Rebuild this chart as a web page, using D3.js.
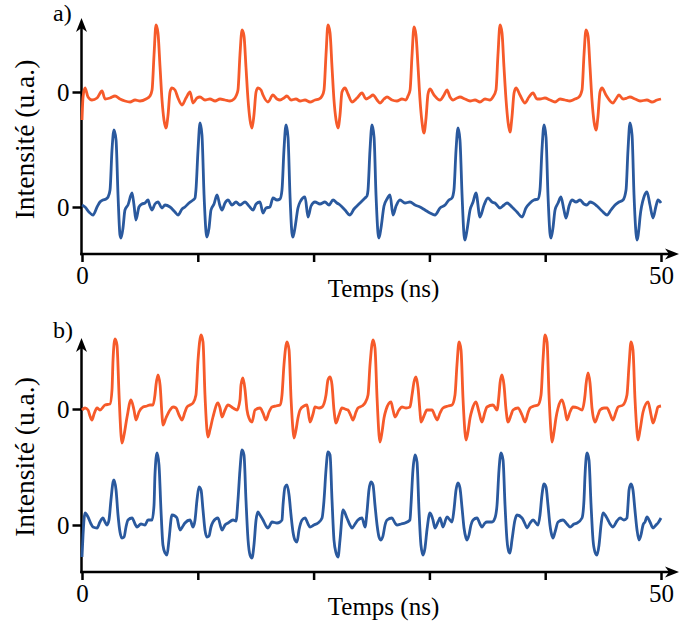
<!DOCTYPE html>
<html><head><meta charset="utf-8">
<script src="https://cdn.jsdelivr.net/npm/d3@7/dist/d3.min.js"></script>
<style>
body{margin:0;background:#fff}
text{font-family:"Liberation Serif","Times New Roman",serif;fill:#000}
</style>
</head><body>
<svg id="chart" width="680" height="626"></svg>
<script>
// ---------- DATA (time in ns, intensity in a.u.) ----------
const xTickValues = [0, 10, 20, 30, 40, 50];
const xTickLabels = ["0", "", "", "", "", "50"];
const yTickLabels = ["0", "0"];
const panelLabels = ["a)", "b)"];
const xAxisTitle = "Temps (ns)";
const yAxisTitle = "Intensité (u.a.)";
const colors = {orange: "#f65a2a", blue: "#2a599e"};

// panel a, orange trace
const tA_orange = [0,0.09,0.26,0.52,0.86,1.30,1.73,1.99,2.42,2.85,3.28,3.71,4.15,4.58,5.01,5.53,5.87,6.05,6.22,6.39,6.56,6.74,6.91,7.08,7.25,7.43,7.60,7.77,8.03,8.29,8.64,8.98,9.33,9.59,9.93,10.19,10.62,11.05,11.49,11.92,12.35,12.78,13.13,13.30,13.47,13.64,13.82,13.99,14.16,14.34,14.51,14.68,14.85,15.03,15.20,15.46,15.63,16.06,16.49,16.84,17.10,17.44,17.70,18.05,18.48,18.83,19.26,19.69,20.12,20.47,20.73,20.90,21.07,21.24,21.42,21.59,21.76,21.94,22.11,22.28,22.45,22.71,22.97,23.32,23.75,24.18,24.53,24.87,25.13,25.48,25.73,26.08,26.34,26.77,27.20,27.63,27.98,28.15,28.33,28.50,28.67,28.84,29.02,29.19,29.36,29.53,29.71,29.88,30.05,30.40,30.92,31.26,31.52,31.78,32.04,32.38,32.64,33.07,33.51,33.94,34.37,34.80,35.23,35.49,35.75,35.92,36.10,36.27,36.44,36.62,36.79,36.96,37.13,37.31,37.48,37.82,38.26,38.60,38.95,39.29,39.55,39.98,40.41,40.85,41.28,41.71,42.14,42.57,42.92,43.18,43.35,43.52,43.70,43.87,44.04,44.22,44.39,44.56,44.73,44.91,45.25,45.85,46.11,46.37,46.72,47.07,47.32,47.76,48.19,48.79,49.22,49.66,50.0];
const vA_orange = [-2.8,-0.5,0.4,-0.5,-0.8,-0.6,0.1,-0.7,-0.6,-0.4,-0.7,-0.9,-1.0,-0.8,-0.9,-0.7,-0.4,0.2,3.7,6.7,5.9,2.5,-0.8,-2.8,-3.6,-2.3,0.0,0.4,0.2,-0.6,-1.3,-0.6,0.0,-1.1,-0.6,-0.5,-0.8,-0.7,-0.9,-0.7,-0.8,-0.9,-0.7,-0.4,0.2,3.7,6.2,5.6,2.5,-0.8,-2.8,-3.6,-2.3,0.0,0.4,0.2,-0.3,-1.0,-0.3,-0.7,-0.8,-0.6,-0.4,-0.8,-0.7,-0.9,-0.8,-1.0,-0.8,-0.7,-0.4,0.2,3.7,6.7,5.9,2.5,-0.8,-2.8,-3.6,-2.3,0.0,0.4,-0.2,-1.0,-0.6,-0.1,-0.7,-0.5,-0.3,-0.8,-1.1,-0.7,-0.5,-0.8,-0.9,-0.7,-0.8,-0.4,0.2,3.7,6.5,5.7,2.5,-0.8,-3.0,-4.1,-2.6,-0.2,0.3,-0.3,-0.8,-0.3,0.2,-0.5,-0.8,-0.6,-0.5,-0.7,-0.9,-0.8,-1.0,-0.7,-0.8,-0.5,0.2,3.7,6.7,5.9,2.5,-0.8,-3.0,-4.0,-2.5,-0.1,0.4,-0.3,-1.1,-0.5,-0.1,-0.7,-0.7,-0.6,-0.8,-1.0,-0.7,-0.8,-0.9,-0.7,-0.5,0.2,3.7,6.2,5.6,2.5,-0.8,-3.0,-3.8,-2.4,0.0,0.4,-0.3,-1.1,-0.7,-0.3,-0.7,-0.6,-0.5,-0.7,-0.9,-0.8,-1.0,-0.8,-0.7];

// panel a, blue trace
const tA_blue = [0,0.26,0.60,0.95,1.30,1.55,1.81,2.07,2.25,2.42,2.59,2.76,2.94,3.11,3.28,3.37,3.54,3.71,3.97,4.32,4.49,4.66,4.92,5.18,5.44,5.70,5.87,6.05,6.30,6.56,6.91,7.17,7.60,8.03,8.29,8.64,8.89,9.24,9.59,9.76,9.84,10.02,10.19,10.36,10.54,10.71,10.79,10.97,11.14,11.40,11.66,11.92,12.09,12.35,12.61,12.95,13.30,13.64,14.08,14.42,14.77,15.03,15.37,15.63,15.89,16.23,16.49,16.84,17.10,17.27,17.44,17.62,17.79,17.96,18.13,18.22,18.39,18.65,18.83,19.26,19.52,19.78,20.12,20.55,20.98,21.33,21.68,22.02,22.28,22.71,23.14,23.49,23.83,24.18,24.44,24.61,24.70,24.87,25.04,25.22,25.39,25.56,25.65,25.82,26.08,26.34,26.60,26.86,27.12,27.46,27.89,28.32,28.76,29.19,29.62,30.05,30.48,30.92,31.35,31.69,31.95,32.12,32.30,32.47,32.64,32.82,32.99,33.07,33.25,33.51,33.77,34.02,34.37,34.72,35.06,35.41,35.66,36.10,36.44,36.70,37.13,37.56,38.00,38.34,38.69,39.03,39.38,39.55,39.72,39.90,40.07,40.24,40.41,40.50,40.67,40.85,41.11,41.36,41.62,41.80,42.06,42.31,42.66,43.01,43.35,43.61,43.87,44.13,44.47,44.91,45.34,45.68,46.03,46.37,46.72,46.98,47.15,47.32,47.50,47.67,47.84,47.93,48.10,48.19,48.53,48.79,49.05,49.31,49.57,49.74,50.0];
const vA_blue = [0.2,0.0,-0.5,-0.8,0.0,0.5,0.7,0.8,1.0,1.7,5.7,7.7,6.7,1.2,-2.8,-3.1,-2.1,-0.3,0.2,1.4,0.2,-1.3,0.0,0.3,0.4,0.7,0.1,-0.3,0.3,0.5,-0.1,0.2,0.0,-0.5,-0.8,-0.2,0.0,0.4,0.7,0.9,1.7,5.7,8.4,7.2,1.2,-2.5,-3.0,-2.1,-0.3,0.3,1.2,0.1,-0.3,0.4,0.7,0.2,0.5,0.2,0.5,0.1,-0.3,0.3,0.5,-0.6,-0.1,0.0,0.9,0.7,0.8,1.7,5.7,8.2,7.0,1.2,-2.6,-3.0,-2.1,-0.1,0.5,1.0,-1.0,0.1,0.5,0.3,0.5,0.2,0.7,0.4,0.2,-0.3,-0.8,-0.2,0.2,0.6,0.9,1.1,1.7,5.7,8.2,7.0,1.2,-2.6,-3.1,-2.1,0.1,0.8,1.2,-0.8,0.1,0.7,0.4,0.5,0.2,0.0,-0.3,-0.6,-0.8,-0.1,0.2,0.7,0.9,1.7,5.7,7.9,6.7,1.2,-2.8,-3.3,-2.3,-0.3,0.5,1.4,-1.0,0.2,0.9,0.5,0.4,-0.1,0.2,0.4,0.0,-0.5,-1.0,-0.1,0.4,0.7,0.8,1.7,5.7,8.2,7.0,1.2,-2.6,-3.1,-2.1,-0.3,0.4,1.0,-0.3,-1.1,0.1,0.7,0.5,0.7,0.3,0.2,0.5,0.4,0.1,-0.4,-0.8,-0.3,0.2,0.5,0.7,1.7,5.7,8.4,7.2,1.2,-2.6,-3.3,-2.1,-1.0,1.0,1.5,0.2,-1.1,0.1,0.7,0.4];

// panel b, orange trace
const tB_orange = [0,0.26,0.52,0.69,0.86,1.04,1.30,1.55,1.99,2.42,2.59,2.68,2.85,3.02,3.20,3.37,3.45,3.63,3.89,4.23,4.49,4.66,4.92,5.27,5.61,5.87,6.13,6.30,6.39,6.56,6.74,6.91,6.99,7.25,7.60,7.86,8.12,8.38,8.64,8.89,9.07,9.33,9.59,9.84,10.02,10.28,10.45,10.62,10.79,10.88,11.05,11.31,11.74,11.92,12.09,12.35,12.61,13.04,13.39,13.64,13.73,13.90,14.08,14.25,14.42,14.68,14.94,15.37,15.63,15.89,16.15,16.41,16.75,17.10,17.27,17.44,17.70,17.88,18.05,18.22,18.31,18.48,18.65,18.83,19.17,19.43,19.69,19.95,20.12,20.47,20.73,21.07,21.24,21.42,21.59,21.76,21.94,22.19,22.45,22.71,22.97,23.23,23.40,23.66,23.83,24.18,24.44,24.70,24.87,25.13,25.30,25.48,25.65,25.73,25.91,26.08,26.25,26.68,26.86,27.03,27.37,27.63,27.98,28.32,28.50,28.67,28.84,29.02,29.19,29.27,29.53,29.79,30.22,30.48,30.66,30.92,31.17,31.61,31.95,32.21,32.38,32.56,32.73,32.90,33.07,33.16,33.33,33.51,33.68,34.02,34.28,34.54,34.80,34.97,35.49,35.84,36.01,36.10,36.27,36.44,36.62,36.79,37.05,37.22,37.65,38.00,38.26,38.51,38.69,39.03,39.38,39.64,39.81,39.98,40.16,40.33,40.50,40.59,40.76,40.93,41.11,41.45,41.71,41.88,42.14,42.40,42.83,43.18,43.44,43.52,43.70,43.87,44.04,44.30,44.56,44.73,45.08,45.34,45.60,45.85,46.11,46.29,46.72,47.06,47.24,47.41,47.58,47.75,47.93,48.01,48.19,48.45,48.88,49.14,49.31,49.57,49.74,50.0];
const vB_orange = [-0.1,0.1,-0.1,-0.7,-1.1,-0.5,0.1,-0.1,0.4,0.5,1.9,4.9,7.0,6.4,1.4,-2.6,-3.4,-2.6,-0.8,0.9,-0.1,-1.1,-0.3,0.2,0.3,0.4,0.4,1.4,2.4,3.4,2.4,-0.6,-1.6,-0.9,-0.1,0.2,0.1,-0.6,-1.1,-0.3,0.2,0.4,0.6,1.4,4.9,7.4,6.7,1.4,-2.1,-2.8,-2.1,-0.8,0.6,0.1,-0.8,-0.1,0.4,0.1,-0.1,0.9,2.4,3.1,1.9,-0.1,-0.9,-1.3,-0.1,0.1,-0.4,-1.1,-0.3,0.2,0.3,0.4,1.4,4.4,6.7,5.9,1.1,-2.1,-2.9,-2.1,-0.9,-0.1,0.3,0.4,-1.3,-0.5,0.2,0.1,0.2,1.4,2.9,3.2,2.4,-0.1,-1.4,-0.6,0.1,0.0,-0.1,-0.7,-1.1,-0.3,0.1,0.3,0.6,1.4,4.4,6.9,6.1,1.1,-2.6,-3.3,-2.3,-0.9,-0.1,0.7,-0.1,-0.8,-0.1,0.2,0.1,0.2,1.4,2.7,3.2,2.1,-0.3,-1.3,-0.7,-0.1,-0.1,-0.7,-1.1,-0.4,0.1,0.3,0.4,1.4,4.4,6.7,5.9,1.1,-2.3,-3.1,-2.3,-0.9,-0.1,0.7,-0.3,-1.3,-0.3,0.2,0.4,-0.1,1.4,2.6,3.4,2.4,-0.1,-1.3,-0.6,-0.1,0.1,-0.6,-1.3,-0.4,0.1,0.3,0.4,1.4,4.9,7.4,6.7,1.4,-2.3,-3.3,-2.3,-0.9,0.1,0.9,-0.1,-1.1,-0.3,0.2,0.1,-0.1,1.4,2.4,3.6,2.6,0.1,-1.3,-0.6,-0.1,0.1,0.1,-0.5,-1.1,-0.3,0.2,0.4,1.4,4.4,6.7,5.9,1.1,-2.3,-3.1,-2.1,-0.3,0.7,-0.6,-1.4,-0.5,0.2,0.3];

// panel b, blue trace
const tB_blue = [0,0.09,0.26,0.52,0.78,0.95,1.30,1.55,1.81,1.99,2.16,2.33,2.50,2.68,2.76,2.94,3.11,3.28,3.45,3.63,3.80,3.97,4.32,4.58,4.75,5.09,5.44,5.70,6.05,6.22,6.30,6.48,6.65,6.82,6.99,7.17,7.34,7.51,7.77,8.03,8.20,8.46,8.72,8.89,9.33,9.59,9.76,9.93,10.10,10.28,10.45,10.62,10.79,10.97,11.14,11.31,11.74,12.09,12.35,12.61,13.04,13.30,13.47,13.64,13.82,13.99,14.16,14.34,14.51,14.68,14.85,15.03,15.20,15.37,15.63,15.89,16.06,16.41,16.84,17.10,17.27,17.36,17.53,17.70,17.88,18.05,18.22,18.39,18.57,18.74,19.00,19.26,19.52,19.69,20.03,20.38,20.73,20.90,21.07,21.24,21.42,21.59,21.76,21.94,22.11,22.28,22.54,22.88,23.14,23.32,23.58,23.83,24.18,24.44,24.61,24.78,24.96,25.13,25.30,25.48,25.65,25.82,25.99,26.17,26.34,26.77,27.03,27.20,27.55,27.89,28.32,28.41,28.58,28.76,28.93,29.10,29.27,29.45,29.62,29.79,30.05,30.31,30.48,30.74,30.92,31.17,31.52,31.78,31.95,32.12,32.30,32.47,32.64,32.82,32.99,33.16,33.25,33.42,33.59,33.77,34.11,34.37,34.54,34.80,34.97,35.41,35.66,35.84,36.01,36.18,36.36,36.53,36.70,36.87,36.96,37.13,37.39,37.56,38.00,38.26,38.43,38.69,38.95,39.38,39.55,39.72,39.90,40.07,40.24,40.41,40.59,40.67,40.85,41.11,41.54,41.88,42.14,42.49,42.75,43.18,43.35,43.44,43.61,43.78,43.96,44.13,44.30,44.47,44.65,44.82,44.99,45.42,45.60,45.85,46.20,46.46,46.80,47.06,47.15,47.24,47.41,47.58,47.75,47.93,48.10,48.27,48.45,48.62,48.79,49.05,49.31,49.57,49.74,50.0];
const vB_blue = [-3.2,-1.0,1.2,0.8,0.1,-0.2,-0.3,0.3,0.7,0.3,0.0,0.5,2.5,4.3,4.5,3.5,1.0,-0.7,-1.3,-1.2,-0.2,0.5,0.7,0.1,-0.2,0.1,0.0,0.5,0.5,2.0,5.0,7.2,6.0,1.5,-2.0,-2.8,-3.0,-1.5,1.0,0.9,0.7,-0.5,-0.1,0.2,0.5,-0.2,0.5,2.5,3.8,3.5,1.5,-0.5,-1.2,-1.1,-0.2,0.3,0.7,-0.5,0.0,0.2,0.5,0.4,2.5,5.5,7.5,7.0,2.5,-1.5,-3.0,-3.3,-2.0,0.5,1.3,1.0,0.5,-0.1,-0.3,0.3,0.2,0.3,0.5,2.0,3.8,4.0,3.0,1.0,-0.7,-1.5,-1.7,-0.5,0.5,0.7,0.1,-0.2,0.0,0.2,0.7,2.5,5.5,7.3,7.0,2.5,-1.5,-2.8,-3.2,-1.5,1.5,0.7,0.0,-0.3,0.1,0.5,0.7,-0.2,1.3,3.5,4.3,4.0,2.0,0.0,-1.2,-1.5,-1.1,0.0,0.5,0.7,0.2,0.0,0.1,0.2,0.5,2.0,5.5,7.0,6.3,1.5,-2.0,-3.0,-2.3,-0.5,1.2,0.5,-0.3,0.3,0.7,-0.2,0.8,0.5,0.3,1.5,3.5,4.2,3.7,1.7,-0.3,-1.3,-1.5,-1.0,0.0,0.5,0.7,0.1,-0.2,0.2,0.3,0.3,0.7,2.0,5.5,7.2,6.5,2.0,-1.5,-2.7,-2.8,-1.5,0.5,1.0,0.7,0.1,-0.3,0.2,0.5,0.0,1.0,3.0,4.1,3.8,2.0,0.0,-1.1,-1.3,-0.7,0.3,0.5,0.1,-0.2,0.1,0.2,0.7,2.5,5.0,7.2,6.5,2.0,-1.5,-2.7,-3.0,-2.0,0.0,1.2,0.5,0.1,-0.2,0.4,0.7,0.5,0.7,2.0,3.5,4.1,3.5,1.5,-0.5,-1.5,-1.0,0.0,0.3,0.8,0.3,-0.3,0.0,0.2,0.7];

// ---------- LAYOUT ----------
const panels = [
  {label: panelLabels[0], tO: tA_orange, vO: vA_orange, tB: tA_blue, vB: vA_blue,
   yDomain: [-4.7, 18.9], yRange: [254, 18], offset: 11.5, titleY: 297, labelY: 21},
  {label: panelLabels[1], tO: tB_orange, vO: vB_orange, tB: tB_blue, vB: vB_blue,
   yDomain: [-4.7, 18.7], yRange: [572, 338], offset: 11.6, titleY: 615, labelY: 338}
];

const svg = d3.select("#chart");
const x = d3.scaleLinear().domain([0, 50]).range([82, 661]);
const axisX0 = 81.5, axisXEnd = 679;

panels.forEach(p => {
  const y = d3.scaleLinear().domain(p.yDomain).range(p.yRange);
  const g = svg.append("g");
  const base = y(p.yDomain[0]);
  const top = y(p.yDomain[1]);

  // x axis
  const xa = g.append("g").attr("transform", `translate(0,${base})`)
    .call(d3.axisBottom(x).tickValues(xTickValues).tickSize(8).tickPadding(4)
      .tickFormat((d, i) => xTickLabels[i]));
  xa.select(".domain").remove();
  xa.selectAll(".tick line").attr("stroke", "#000").attr("stroke-width", 2.5);
  xa.selectAll(".tick text").attr("font-family", "Liberation Serif").attr("font-size", 25).attr("fill", "#000");
  g.append("line").attr("x1", axisX0 - 1.25).attr("x2", axisXEnd - 8).attr("y1", base).attr("y2", base)
    .attr("stroke", "#000").attr("stroke-width", 2.5);
  g.append("path")
    .attr("d", `M${axisXEnd},${base} L${axisXEnd - 14},${base - 5.5} L${axisXEnd - 10},${base} L${axisXEnd - 14},${base + 5.5} Z`)
    .attr("fill", "#000");

  // y axis
  const ya = g.append("g").attr("transform", `translate(${axisX0},0)`)
    .call(d3.axisLeft(y).tickValues([0, p.offset]).tickSize(9).tickPadding(3)
      .tickFormat((d, i) => yTickLabels[i]));
  ya.select(".domain").remove();
  ya.selectAll(".tick line").attr("stroke", "#000").attr("stroke-width", 2.5);
  ya.selectAll(".tick text").attr("font-family", "Liberation Serif").attr("font-size", 25).attr("fill", "#000");
  g.append("line").attr("x1", axisX0).attr("x2", axisX0).attr("y1", base + 1.25).attr("y2", top + 8)
    .attr("stroke", "#000").attr("stroke-width", 2.5);
  g.append("path")
    .attr("d", `M${axisX0},${top} L${axisX0 - 5.5},${top + 14} L${axisX0},${top + 10} L${axisX0 + 5.5},${top + 14} Z`)
    .attr("fill", "#000");

  // titles
  g.append("text").attr("x", (x(0) + x(50)) / 2 + 12).attr("y", p.titleY)
    .attr("text-anchor", "middle").attr("font-size", 25).text(xAxisTitle);
  const midY = (y(0) + y(p.offset)) / 2 - 10;
  g.append("text").attr("transform", `translate(34,${midY}) rotate(-90)`)
    .attr("text-anchor", "middle").attr("font-size", 27.5).text(yAxisTitle);
  g.append("text").attr("x", 53).attr("y", p.labelY).attr("font-size", 24).text(p.label);

  // traces
  const line = d3.line().x(d => x(d[0])).y(d => y(d[1])).curve(d3.curveMonotoneX);
  const blue = p.tB.map((t, i) => [t, p.vB[i]]);
  const orange = p.tO.map((t, i) => [t, p.vO[i] + p.offset]);
  g.append("path").datum(blue).attr("d", line).attr("fill", "none")
    .attr("stroke", colors.blue).attr("stroke-width", 2.8).attr("stroke-linejoin", "round");
  g.append("path").datum(orange).attr("d", line).attr("fill", "none")
    .attr("stroke", colors.orange).attr("stroke-width", 2.8).attr("stroke-linejoin", "round");
});
</script>
</body></html>
